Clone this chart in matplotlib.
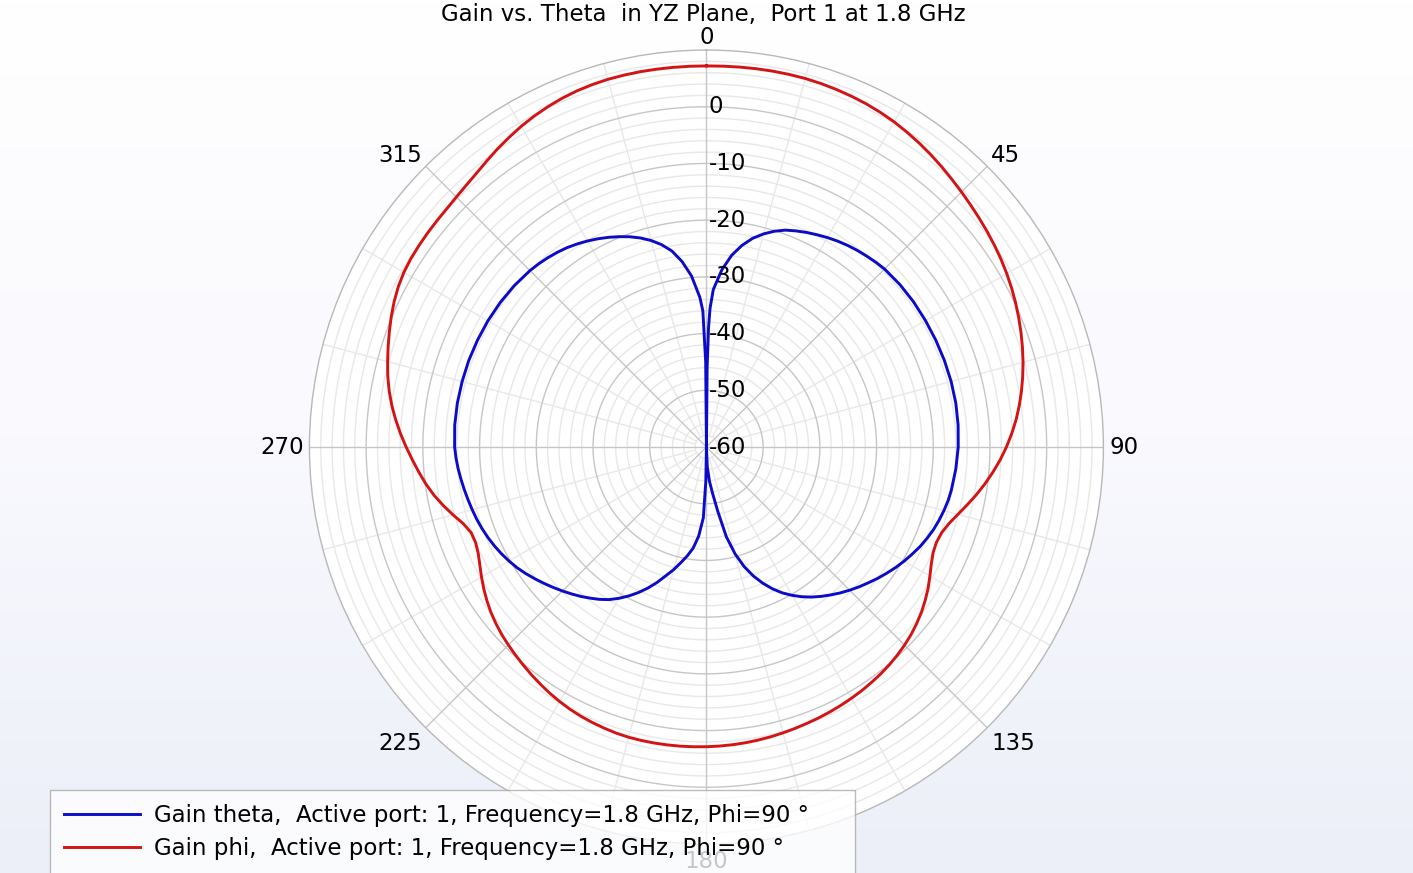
import numpy as np
import matplotlib
matplotlib.use("Agg")
import matplotlib.pyplot as plt
from matplotlib.colors import LinearSegmentedColormap
from matplotlib import transforms

# gain theta (blue curve), angle in degrees, gain in dB
theta_gth = [0, 0.5, 1.0, 1.5, 2.5, 5, 7.5, 10, 12.5, 15, 17.5, 20, 22.5, 25,
             27.5, 30, 32.5, 35, 37.5, 40, 42.5, 45, 50, 55, 60, 65, 70, 75,
             80, 85, 90, 95, 100, 102.5, 105, 107.5, 110, 112.5, 115, 117.5,
             120, 122.5, 125, 127.5, 130, 132.5, 135, 137.5, 140, 142.5, 145,
             147.5, 150, 152.5, 155, 157.5, 160, 162.5, 165, 167.5, 170, 172.5,
             175, 177.5, 180, 181, 182.5, 185, 187.5, 190, 192.5, 195, 197.5,
             200, 202.5, 205, 207.5, 210, 212.5, 215, 217.5, 220, 222.5, 225,
             227.5, 230, 232.5, 235, 237.5, 240, 242.5, 245, 247.5, 250, 252.5,
             255, 257.5, 260, 262.5, 265, 267.5, 270, 275, 280, 285, 290, 295,
             300, 305, 310, 315, 317.5, 320, 322.5, 325, 327.5, 330, 332.5, 335,
             337.5, 340, 342.5, 345, 347.5, 350, 352.5, 355, 357.5, 358.5,
             359.5, 360]
gain_theta = [-60, -46, -39, -35.5, -32.2, -28.6, -25.9, -23.9, -22.3, -21.1,
              -20.1, -19.3, -18.75, -18.25, -17.8, -17.35, -16.95, -16.6, -16.3,
              -16.05, -15.8, -15.6, -15.45, -15.4, -15.4, -15.38, -15.35,
              -15.33, -15.35, -15.45, -15.6, -15.85, -16.15, -16.35, -16.65,
              -17.0, -17.4, -17.9, -18.45, -19.1, -19.75, -20.45, -21.2, -21.95,
              -22.75, -23.5, -24.3, -25.1, -25.95, -26.8, -27.7, -28.7, -29.8,
              -31.0, -32.4, -34.0, -35.8, -37.9, -40.5, -43.8, -48.5, -51.8,
              -54.0, -56.5, -60, -54, -47.5, -44.2, -42.0, -40.5, -39.1, -37.6,
              -36.2, -34.6, -33.1, -31.7, -30.4, -29.2, -28.1, -27.2, -26.4,
              -25.6, -24.85, -24.1, -23.35, -22.6, -21.85, -21.1, -20.4, -19.8,
              -19.25, -18.75, -18.3, -17.9, -17.55, -17.25, -16.95, -16.65,
              -16.35, -16.05, -15.8, -15.6, -15.45, -15.4, -15.4, -15.4, -15.45,
              -15.5, -15.6, -15.75, -16.0, -16.2, -16.45, -16.75, -17.1, -17.55,
              -18.05, -18.6, -19.2, -19.85, -20.55, -21.35, -22.3, -23.45,
              -24.9, -27.0, -29.7, -33.6, -36.0, -45, -60]

# gain phi (red curve), sampled every 2.5 degrees from 0 to 360
theta_gph = [i * 2.5 for i in range(145)]
gain_phi = [7.20, 7.22, 7.25, 7.28, 7.30, 7.30, 7.28, 7.20, 7.08, 6.93, 6.75,
            6.50, 6.20, 5.82, 5.42, 4.98, 4.52, 4.05, 3.60, 3.18, 2.78, 2.40,
            2.00, 1.60, 1.15, 0.67, 0.15, -0.40, -0.97, -1.57, -2.20, -2.88,
            -3.60, -4.37, -5.20, -6.12, -7.10, -8.15, -9.28, -10.45, -11.65,
            -12.90, -14.10, -15.15, -15.85, -16.10, -15.90, -15.30, -14.50,
            -13.65, -12.90, -12.20, -11.60, -11.05, -10.60, -10.20, -9.85,
            -9.55, -9.30, -9.05, -8.85, -8.65, -8.47, -8.30, -8.15, -7.98,
            -7.82, -7.66, -7.52, -7.40, -7.30, -7.22, -7.15,
            -7.10, -7.05, -7.02, -7.00, -7.00, -7.02, -7.10, -7.25, -7.42,
            -7.62, -7.88, -8.20, -8.55, -8.95, -9.35, -9.78, -10.20, -10.62,
            -11.05, -11.55, -12.10, -12.75, -13.45, -14.20, -14.95, -15.60,
            -15.95, -15.85, -15.05, -13.75, -12.45, -11.20, -10.10, -9.10,
            -8.10, -7.05, -6.00, -5.00, -4.05, -3.20, -2.45, -1.80, -1.15,
            -0.50, 0.15, 0.75, 1.25, 1.60, 1.80, 1.90, 1.98, 2.05, 2.15, 2.35,
            2.65, 3.05, 3.60, 4.20, 4.75, 5.30, 5.78, 6.20, 6.55, 6.82, 7.00,
            7.12, 7.17, 7.20, 7.20, 7.20, 7.20, 7.20]

r_ticks = [0, -10, -20, -30, -40, -50, -60]
angle_ticks = [0, 45, 90, 135, 180, 225, 270, 315]
legend_labels = ["Gain theta,  Active port: 1, Frequency=1.8 GHz, Phi=90 \u00b0",
                 "Gain phi,  Active port: 1, Frequency=1.8 GHz, Phi=90 \u00b0"]

RMIN, RMAX = -60, 10
BLUE = "#0b0bc8"
RED = "#d41414"
MAJ = "#c6c6c6"
MIN = "#e8e8e8"
FS = 16.5

fig = plt.figure(figsize=(14.13, 8.73), dpi=100)

# background gradient
bg = fig.add_axes([0, 0, 1, 1], zorder=-10)
cmap = LinearSegmentedColormap.from_list("bg", ["#ffffff", "#f9f9fe", "#eceff8"])
bg.imshow(np.linspace(0, 1, 256).reshape(-1, 1), aspect="auto", cmap=cmap,
          extent=[0, 1, 0, 1])
bg.axis("off")

ax = fig.add_axes([0.2190, 0.0332, 0.5619, 0.9095], projection="polar")
ax.set_theta_zero_location("N")
ax.set_theta_direction(-1)
ax.set_ylim(RMIN, RMAX)
ax.set_facecolor("white")
ax.grid(False)
ax.set_xticks([])
ax.set_yticks([])
ax.spines["polar"].set_color("#b8b8b8")
ax.spines["polar"].set_linewidth(1.0)

# grid circles: minor every 2 dB, major every 10 dB
tt = np.linspace(0, 2 * np.pi, 721)
for r in range(RMIN + 2, RMAX, 2):
    if r % 10 == 0:
        continue
    ax.plot(tt, np.full_like(tt, r), color=MIN, lw=1.0, zorder=1)
for r in range(RMIN + 10, RMAX, 10):
    ax.plot(tt, np.full_like(tt, r), color=MAJ, lw=1.0, zorder=1.5)

# spokes: minor every 15 deg, major every 45 deg
for a in range(0, 360, 15):
    t = np.deg2rad(a)
    if a % 45 == 0:
        ax.plot([t, t], [RMIN, RMAX], color=MAJ, lw=1.0, zorder=1.5)
    else:
        ax.plot([t, t], [RMIN + 2, RMAX], color=MIN, lw=1.0, zorder=1)

ax.plot(np.deg2rad(theta_gth), np.clip(gain_theta, RMIN, None), color=BLUE,
        lw=2.1, zorder=3, label=legend_labels[0])
ax.plot(np.deg2rad(theta_gph), gain_phi, color=RED, lw=2.1, zorder=3,
        label=legend_labels[1])

# radial labels along the 0 deg spoke
off = transforms.offset_copy(ax.transData, fig=fig, x=1.5, y=0, units="points")
for r in r_ticks:
    ax.text(0, r, str(r), transform=off, ha="left", va="center",
            fontsize=FS, color="black", zorder=5)

# angle labels just outside the circle
align = {0: ("center", "baseline"), 45: ("left", "baseline"),
         90: ("left", "center"), 135: ("left", "top"),
         180: ("center", "top"), 225: ("right", "top"),
         270: ("right", "center"), 315: ("right", "baseline")}
for a in angle_ticks:
    ha, va = align[a]
    ax.text(np.deg2rad(a), RMAX + 1.0, str(a), ha=ha, va=va, fontsize=FS,
            color="black", clip_on=False)

fig.text(0.4975, 1 - 14 / 873, "Gain vs. Theta  in YZ Plane,  Port 1 at 1.8 GHz",
         ha="center", va="center", fontsize=FS)

# legend box runs past the bottom edge, as in the original export
h, l = ax.get_legend_handles_labels()
leg = fig.legend(h, l, loc="upper left", mode="expand",
                 bbox_to_anchor=(50 / 1413, 0, 805 / 1413, 83 / 873),
                 fontsize=FS, frameon=True, fancybox=False, framealpha=0.78,
                 edgecolor="#a8a8a8", handlelength=3.3, handletextpad=0.6,
                 borderpad=0.62, labelspacing=0.44, borderaxespad=0)
leg.get_frame().set_linewidth(1.0)

fig.savefig("out.png", dpi=100)
